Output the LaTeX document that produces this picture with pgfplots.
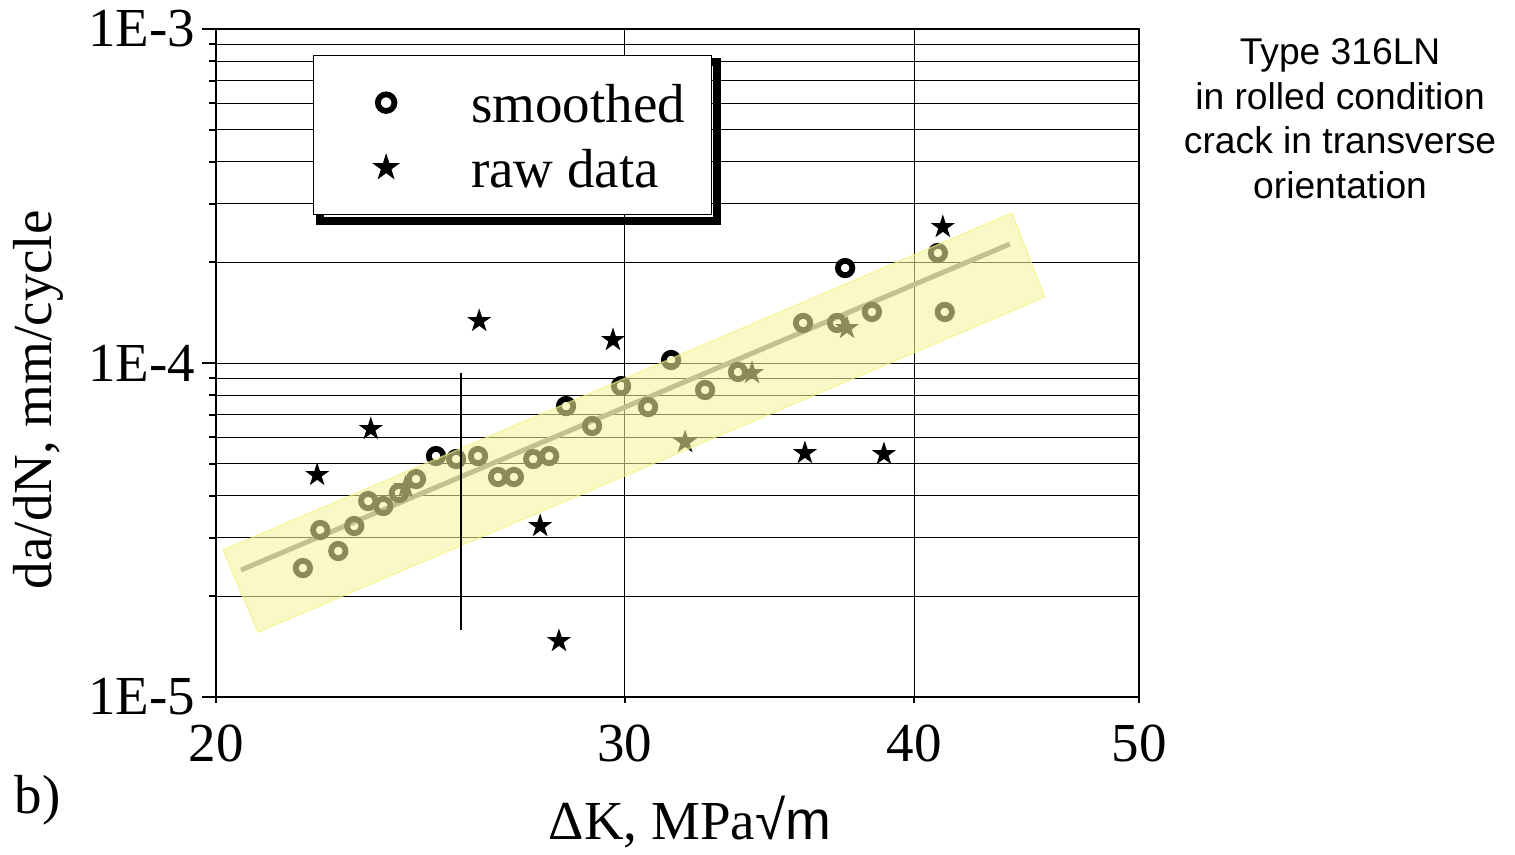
\documentclass[border=0pt]{standalone}
\usepackage{pgfplots}
\pgfplotsset{compat=1.18}
\usepackage{fontspec}
\setmainfont{Liberation Serif}
\newfontfamily\arialfont{Liberation Sans}
\definecolor{bandC}{RGB}{245,245,158}
\definecolor{bandE}{RGB}{242,242,130}
\pgfdeclareplotmark{fstar}{%
  \pgfpathmoveto{\pgfqpointpolar{90}{\pgfplotmarksize}}%
  \pgfpathlineto{\pgfqpointpolar{126}{0.382\pgfplotmarksize}}%
  \pgfpathlineto{\pgfqpointpolar{162}{\pgfplotmarksize}}%
  \pgfpathlineto{\pgfqpointpolar{198}{0.382\pgfplotmarksize}}%
  \pgfpathlineto{\pgfqpointpolar{234}{\pgfplotmarksize}}%
  \pgfpathlineto{\pgfqpointpolar{270}{0.382\pgfplotmarksize}}%
  \pgfpathlineto{\pgfqpointpolar{306}{\pgfplotmarksize}}%
  \pgfpathlineto{\pgfqpointpolar{342}{0.382\pgfplotmarksize}}%
  \pgfpathlineto{\pgfqpointpolar{18}{\pgfplotmarksize}}%
  \pgfpathlineto{\pgfqpointpolar{54}{0.382\pgfplotmarksize}}%
  \pgfpathclose\pgfusepathqfill}
\newcommand{\bigf}{\fontsize{27.5}{30}\selectfont}
\begin{document}
\begin{tikzpicture}
\begin{axis}[
  scale only axis, width=461.5pt, height=334pt,
  xmode=log, ymode=log,
  xmin=20, xmax=50, ymin=1e-5, ymax=1e-3,
  xtick={20,30,40,50}, xticklabels={{\mbox{20}},{\mbox{30}},{\mbox{40}},{\mbox{50}}},
  xminorticks=false,
  ytick={1e-5,1e-4,1e-3}, yticklabels={{\mbox{1E-5}},{\mbox{1E-4}},{\mbox{1E-3}}},
  minor ytick={2e-5,3e-5,4e-5,5e-5,6e-5,7e-5,8e-5,9e-5,2e-4,3e-4,4e-4,5e-4,6e-4,7e-4,8e-4,9e-4},
  xmajorgrids, ymajorgrids, yminorgrids,
  major grid style={black, line width=0.5pt},
  minor grid style={black, line width=0.5pt},
  axis line style={line width=1pt},
  tick align=outside, xtick pos=bottom, ytick pos=left,
  major tick length=7pt, minor tick length=3.5pt,
  xtick style={/pgfplots/major tick length=3pt},
  every tick/.style={black, line width=1pt},
  tick label style={font=\bigf},
  xticklabel style={yshift=-3.5pt},
  label style={font=\bigf},
  xlabel={ΔK, MPa{\arialfont √m}},
  ylabel={da/dN, mm/cycle},
  xlabel style={at={(axis description cs:0.5135,-0.187)}, anchor=center},
  ylabel style={at={(axis description cs:-0.193,0.445)}, anchor=center},
  clip mode=individual,
  legend cell align=left,
  legend style={at={(rel axis cs:0.105,0.961)}, anchor=north west,
    draw=black, line width=0.6pt, fill=white,
    inner xsep=4pt, inner ysep=13.5pt, row sep=12.5pt, column sep=23pt,
    font=\bigf,
    nodes={inner xsep=9.2pt, inner ysep=0pt, text height=20pt, text depth=0pt},
    preaction={draw=black, line width=4pt, transform canvas={shift={(3pt,-3pt)}}}},
  legend image code/.code={\path (-32pt,0pt) (10pt,0pt); \draw[#1, only marks, every mark/.append style={scale=1.15}] plot coordinates {(0pt,0pt)};},
]
% fitted trend line (under the band)
\addplot[forget plot, color=black!50, line width=2.5pt] coordinates {(20.50,2.40e-5) (43.98,2.271e-4)};
% smoothed
\addplot[only marks, mark=o, mark size=3.6pt, mark options={black, line width=2.9pt}] coordinates {
(21.80,2.433e-5) (22.18,3.162e-5) (22.58,2.736e-5) (22.94,3.251e-5) (23.26,3.862e-5)
(23.61,3.732e-5) (23.98,4.081e-5) (24.39,4.494e-5) (24.88,5.266e-5) (25.38,5.158e-5)
(25.94,5.266e-5) (26.46,4.557e-5) (26.88,4.557e-5) (27.40,5.158e-5) (27.84,5.266e-5)
(28.31,7.43e-5) (29.05,6.478e-5) (29.90,8.532e-5) (30.71,7.38e-5) (31.42,1.021e-4)
(32.50,8.302e-5) (33.58,9.40e-5) (35.82,1.318e-4) (37.05,1.318e-4) (37.35,1.925e-4)
(38.36,1.422e-4) (40.95,2.135e-4) (41.23,1.422e-4)};
\addlegendentry{smoothed}
% raw data
\addplot[only marks, mark=fstar, mark size=6.3pt, mark options={black, fill=black, draw=none}] coordinates {
(22.11,4.620e-5) (23.32,6.344e-5) (24.14,4.253e-5) (25.97,1.336e-4) (27.59,3.251e-5)
(28.11,1.471e-5) (29.66,1.172e-4) (31.86,5.80e-5) (34.05,9.333e-5) (35.89,5.375e-5)
(37.42,1.273e-4) (38.82,5.338e-5) (41.15,2.554e-4)};
\addlegendentry{raw data}
% translucent scatter band
\addplot[forget plot, fill=bandC, fill opacity=0.57, draw=bandE, draw opacity=0.6, line width=0.8pt, line join=miter] coordinates {
(20.14,2.754e-5) (44.07,2.812e-4) (45.53,1.576e-4) (20.85,1.565e-5) (20.14,2.754e-5)};
% vertical marker line
\addplot[forget plot, black, line width=1pt] coordinates {(25.5,9.33e-5) (25.5,1.587e-5)};
\node[font=\bigf] at (axis description cs:-0.193,-0.154) {b)};
\node[font=\arialfont\fontsize{18.6}{22.3}\selectfont, align=center] at (axis description cs:1.2178,0.866)
  {Type 316LN\\in rolled condition\\crack in transverse\\orientation};
\end{axis}
\path ([shift={(-108pt,-75pt)}]current axis.south west) ([shift={(188pt,14.5pt)}]current axis.north east);
\end{tikzpicture}
\end{document}
